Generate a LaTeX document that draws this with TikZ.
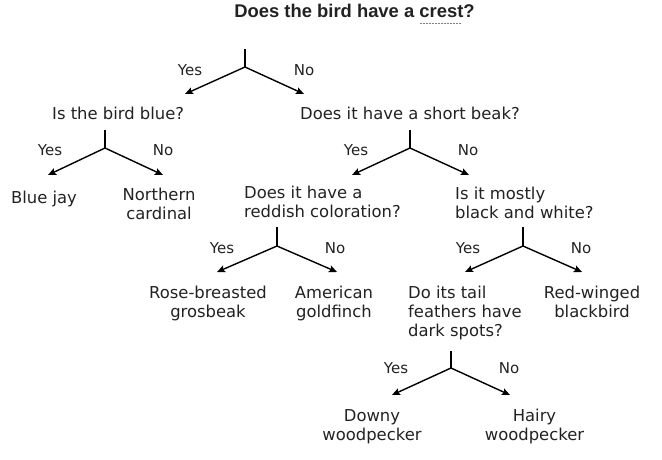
\documentclass[tikz,border=0pt]{standalone}
\usepackage{fontspec}
\setmainfont{DejaVu Sans}
\newfontfamily\titlefont{Liberation Sans}
\usetikzlibrary{arrows.meta}
\definecolor{ink}{HTML}{222222}
\newcommand\dotword[1]{\setbox0\hbox{#1}\rlap{\raisebox{-6.5pt}{\color{gray}\hbox to \wd0{\leaders\hbox to 3pt{\hss\rule{1.3pt}{1.3pt}\hss}\hfill}}}\box0}

\begin{document}
\begin{tikzpicture}[x=1pt, y=-1pt,
    every node/.style={inner sep=0pt, text=ink},
    title/.style={font=\titlefont\bfseries\fontsize{18.4}{21}\selectfont, anchor=base},
    question/.style={font=\fontsize{16.4}{19}\selectfont, align=left, anchor=base west},
    answer/.style={font=\fontsize{16.4}{19}\selectfont, align=center, anchor=base},
    choice/.style={font=\fontsize{15}{18}\selectfont},
    stem/.style={draw=black, line width=1.4pt},
    branch/.style={draw=black, line width=1.4pt, -{Stealth[length=8pt, width=7pt, inset=1.5pt]}}]

  \useasboundingbox (0,0) rectangle (662,459);

  % Questions (multi-line nodes sit on their last line)
  \node[title] (crest) at (354.5,17.5) {Does the bird have a \dotword{crest}?};
  \node[question] (blue) at (52,119) {Is the bird blue?};
  \node[question] (beak) at (300,119) {Does it have a short beak?};
  \node[question] (red) at (244,217) {Does it have a\\reddish coloration?};
  \node[question] (bw) at (455,218) {Is it mostly\\black and white?};
  \node[question] (tail) at (408,336) {Do its tail\\feathers have\\dark spots?};

  % Birds
  \node[answer] (jay) at (44,203) {Blue jay};
  \node[answer] (cardinal) at (159,219) {Northern\\cardinal};
  \node[answer] (grosbeak) at (208,317) {Rose-breasted\\grosbeak};
  \node[answer] (goldfinch) at (334,317) {American\\goldfinch};
  \node[answer] (blackbird) at (592,317) {Red-winged\\blackbird};
  \node[answer] (downy) at (372,440) {Downy\\woodpecker};
  \node[answer] (hairy) at (534.5,440) {Hairy\\woodpecker};

  % Forks
  \coordinate (crest-s) at (245,49);  \coordinate (crest-v) at (245,67);
  \coordinate (crest-y) at (185,94);  \coordinate (crest-n) at (304,94);
  \coordinate (blue-s) at (105,130);  \coordinate (blue-v) at (105,148);
  \coordinate (blue-y) at (48,175);   \coordinate (blue-n) at (163,175);
  \coordinate (beak-s) at (410,130);  \coordinate (beak-v) at (410,148);
  \coordinate (beak-y) at (352,175);  \coordinate (beak-n) at (469,175);
  \coordinate (red-s) at (277,227);   \coordinate (red-v) at (277,246);
  \coordinate (red-y) at (217,272);   \coordinate (red-n) at (337,272);
  \coordinate (bw-s) at (523,227);    \coordinate (bw-v) at (523,246);
  \coordinate (bw-y) at (465,272);    \coordinate (bw-n) at (582,272);
  \coordinate (tail-s) at (451,351);  \coordinate (tail-v) at (451,368);
  \coordinate (tail-y) at (392,395);  \coordinate (tail-n) at (510,395);

  \draw[stem] (crest-s) -- (crest-v);
  \draw[branch] (crest-v) -- (crest-y);
  \draw[branch] (crest-v) -- (crest-n);
  \draw[stem] (blue-s) -- (blue-v);
  \draw[branch] (blue-v) -- (blue-y);
  \draw[branch] (blue-v) -- (blue-n);
  \draw[stem] (beak-s) -- (beak-v);
  \draw[branch] (beak-v) -- (beak-y);
  \draw[branch] (beak-v) -- (beak-n);
  \draw[stem] (red-s) -- (red-v);
  \draw[branch] (red-v) -- (red-y);
  \draw[branch] (red-v) -- (red-n);
  \draw[stem] (bw-s) -- (bw-v);
  \draw[branch] (bw-v) -- (bw-y);
  \draw[branch] (bw-v) -- (bw-n);
  \draw[stem] (tail-s) -- (tail-v);
  \draw[branch] (tail-v) -- (tail-y);
  \draw[branch] (tail-v) -- (tail-n);

  % Yes / No
  \node[choice] (crest-yes) at (190,70) {Yes};
  \node[choice] (crest-no) at (304,70) {No};
  \node[choice] (blue-yes) at (50,150.5) {Yes};
  \node[choice] (blue-no) at (163,150.5) {No};
  \node[choice] (beak-yes) at (356,150.5) {Yes};
  \node[choice] (beak-no) at (468,150.5) {No};
  \node[choice] (red-yes) at (222,248) {Yes};
  \node[choice] (red-no) at (335,248) {No};
  \node[choice] (bw-yes) at (468,248) {Yes};
  \node[choice] (bw-no) at (581,248) {No};
  \node[choice] (tail-yes) at (396,368) {Yes};
  \node[choice] (tail-no) at (509,368) {No};
\end{tikzpicture}
\end{document}
